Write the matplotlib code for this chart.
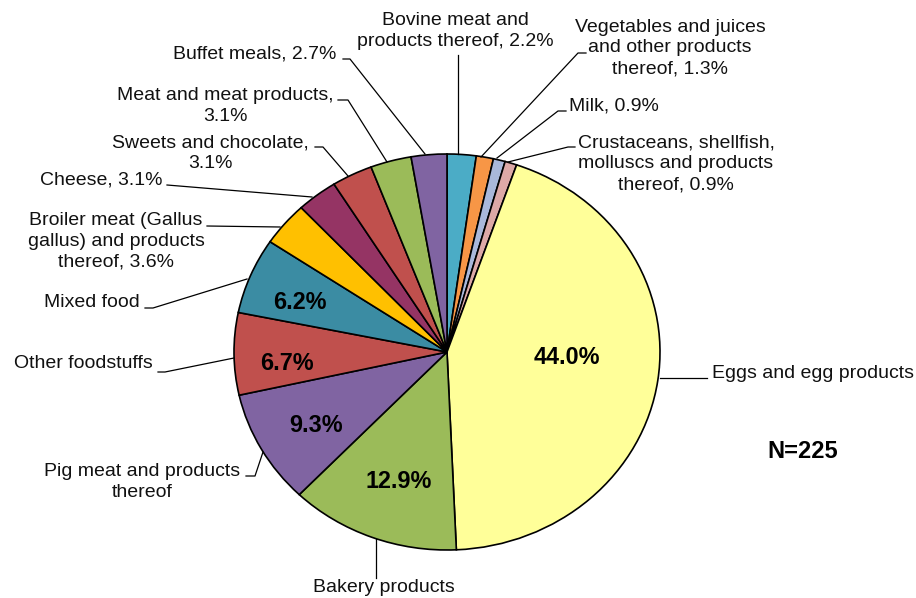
import matplotlib
matplotlib.use("Agg")
import matplotlib.pyplot as plt

plt.rcParams['font.family'] = ['Liberation Sans', 'DejaVu Sans']

# ---- data ----
categories = [
    "Bovine meat and products thereof", "Vegetables and juices and other products thereof",
    "Milk", "Crustaceans, shellfish, molluscs and products thereof",
    "Eggs and egg products", "Bakery products", "Pig meat and products thereof",
    "Other foodstuffs", "Mixed food", "Broiler meat (Gallus gallus) and products thereof",
    "Cheese", "Sweets and chocolate", "Meat and meat products", "Buffet meals",
]
shares = [2.2, 1.3, 0.9, 0.9, 44.0, 12.9, 9.3, 6.7, 6.2, 3.6, 3.1, 3.1, 3.1, 2.7]
colors = ["#4BACC6", "#F79646", "#A9B8DA", "#DDA9A7", "#FFFF99", "#9BBB59", "#8064A2",
          "#C0504D", "#3B8CA3", "#FFC000", "#953464", "#C0504D", "#9BBB59", "#8064A2"]
outer_labels = [
    "Bovine meat and\nproducts thereof, 2.2%",
    "Vegetables and juices\nand other products\nthereof, 1.3%",
    "Milk, 0.9%",
    "Crustaceans, shellfish,\nmolluscs and products\nthereof, 0.9%",
    "Eggs and egg products",
    "Bakery products",
    "Pig meat and products\nthereof",
    "Other foodstuffs",
    "Mixed food",
    "Broiler meat (Gallus\ngallus) and products\nthereof, 3.6%",
    "Cheese, 3.1%",
    "Sweets and chocolate,\n3.1%",
    "Meat and meat products,\n3.1%",
    "Buffet meals, 2.7%",
]
inner_label_idx = [4, 5, 6, 7, 8]
total_n = 225

# ---- layout (pixel geometry of the reference) ----
W, H = 916, 598
CX, CY, RX, RY = 447, 352, 213, 198

def P(px, py):
    return ((px - CX) / RX, (CY - py) / RY)

fig = plt.figure(figsize=(W / 100, H / 100), dpi=100)
ax = fig.add_axes([0, 0, 1, 1])
ax.pie(shares, colors=colors, startangle=90, counterclock=False,
       wedgeprops=dict(edgecolor="black", linewidth=1.2))
ax.set_aspect('auto')
ax.set_xlim(-CX / RX, (W - CX) / RX)
ax.set_ylim(-(H - CY) / RY, CY / RY)
ax.axis('off')

# outer label positions: (x, y, ha)
label_pos = {
    0: (455, 31, 'center'),
    1: (670, 48, 'center'),
    2: (569, 106, 'left'),
    3: (676, 164, 'center'),
    4: (712, 373, 'left'),
    5: (384, 588, 'center'),
    6: (142, 482, 'center'),
    7: (83, 364, 'center'),
    8: (92, 303, 'center'),
    9: (116, 241, 'center'),
    10: (101, 180, 'center'),
    11: (210, 153, 'center'),
    12: (225, 106, 'center'),
    13: (255, 54, 'center'),
}
leaders = {
    0: [(458, 55), (458, 154)],
    1: [(586, 53), (578, 53), (481, 157)],
    2: [(566, 111), (558, 111), (497, 158)],
    3: [(575, 147), (568, 147), (508, 162)],
    4: [(707, 378), (660, 378)],
    5: [(376, 578), (376, 539)],
    6: [(246, 476), (255, 476), (263, 452)],
    7: [(158, 372), (165, 372), (234, 358)],
    8: [(145, 308), (153, 308), (247, 279)],
    9: [(207, 226), (280, 227)],
    10: [(167, 185), (312, 197)],
    11: [(315, 147), (323, 147), (348, 176)],
    12: [(338, 100), (348, 100), (387, 162)],
    13: [(343, 59), (350, 59), (425, 154)],
}
for i, lab in enumerate(outer_labels):
    x, y, ha = label_pos[i]
    ax.text(*P(x, y), lab, ha=ha, va='center', multialignment='center',
            fontsize=14, color='#111111', linespacing=1.3)
    pts = [P(*p) for p in leaders[i]]
    ax.plot([p[0] for p in pts], [p[1] for p in pts], color='black', lw=0.9)

inner_pos = {4: (567, 357), 5: (399, 481), 6: (316, 426), 7: (287, 363), 8: (300, 303)}
for i in inner_label_idx:
    ax.text(*P(*inner_pos[i]), f"{shares[i]:.1f}%", ha='center', va='center',
            fontsize=16.8, fontweight='bold', color='black')

ax.text(*P(803, 451), f"N={total_n}", ha='center', va='center',
        fontsize=17, fontweight='bold', color='black')

fig.savefig("out.png", dpi=100)
